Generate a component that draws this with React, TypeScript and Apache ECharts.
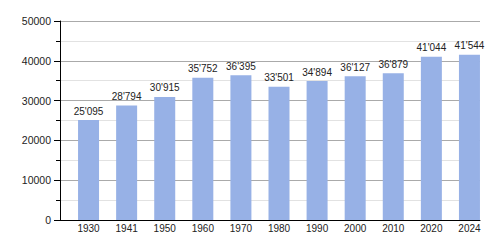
import React, { useEffect, useRef } from "react";
import * as echarts from "echarts";

const years = ["1930", "1941", "1950", "1960", "1970", "1980", "1990", "2000", "2010", "2020", "2024"];
const population = [25095, 28794, 30915, 35752, 36395, 33501, 34894, 36127, 36879, 41044, 41544];
const yMin = 0;
const yMax = 50000;
const yInterval = 10000;

const fmt = (v: number) => String(v).replace(/\B(?=(\d{3})+(?!\d))/g, "'");

export default function App() {
  const ref = useRef<HTMLDivElement>(null);
  useEffect(() => {
    if (!ref.current) return;
    const chart = echarts.init(ref.current, undefined, { renderer: "svg" });
    const font = "'Liberation Sans', Arial, sans-serif";
    chart.setOption({
      animation: false,
      backgroundColor: "#ffffff",
      textStyle: { fontFamily: font },
      grid: [
        { left: 60, right: 20, top: 21, bottom: 30 },
        { left: 69.5, right: 11.5, top: 21, bottom: 30 },
      ],
      xAxis: [
        {
          gridIndex: 0,
          type: "category",
          data: years,
          axisLine: { show: true, lineStyle: { color: "#000", width: 1 } },
          axisTick: { show: false },
          axisLabel: { show: false },
          splitLine: { show: false },
        },
        {
          gridIndex: 1,
          type: "category",
          data: years,
          axisLine: { show: false },
          axisTick: { show: false },
          axisLabel: { show: true, fontSize: 10, color: "#222", margin: 3, fontFamily: font },
          splitLine: { show: false },
        },
      ],
      yAxis: [
        {
          gridIndex: 0,
          type: "value",
          min: yMin,
          max: yMax,
          interval: yInterval,
          axisLine: { show: true, lineStyle: { color: "#000", width: 1 } },
          axisTick: { show: true, length: 6, lineStyle: { color: "#000" } },
          minorTick: { show: true, splitNumber: 2, length: 4, lineStyle: { color: "#000" } },
          axisLabel: {
            fontSize: 10.5,
            color: "#222",
            margin: 9,
            fontFamily: font,
            formatter: (v: number) => String(v),
          },
          splitLine: { show: true, lineStyle: { color: "#aaaaaa", width: 1 } },
          minorSplitLine: { show: true, lineStyle: { color: "#e2e2e2", width: 1 } },
        },
        {
          gridIndex: 1,
          type: "value",
          min: yMin,
          max: yMax,
          interval: yInterval,
          show: false,
          splitLine: { show: false },
        },
      ],
      series: [
        {
          type: "bar",
          xAxisIndex: 1,
          yAxisIndex: 1,
          data: population,
          barWidth: 21,
          itemStyle: { color: "#97b1e6" },
          label: {
            show: true,
            position: "top",
            distance: 4,
            fontSize: 10,
            color: "#222",
            fontFamily: font,
            formatter: (p: any) => fmt(p.value),
          },
        },
      ],
    });
    return () => chart.dispose();
  }, []);
  return (
    <div
      ref={ref}
      style={{ position: "fixed", left: 0, top: 0, width: 500, height: 250 }}
    />
  );
}
